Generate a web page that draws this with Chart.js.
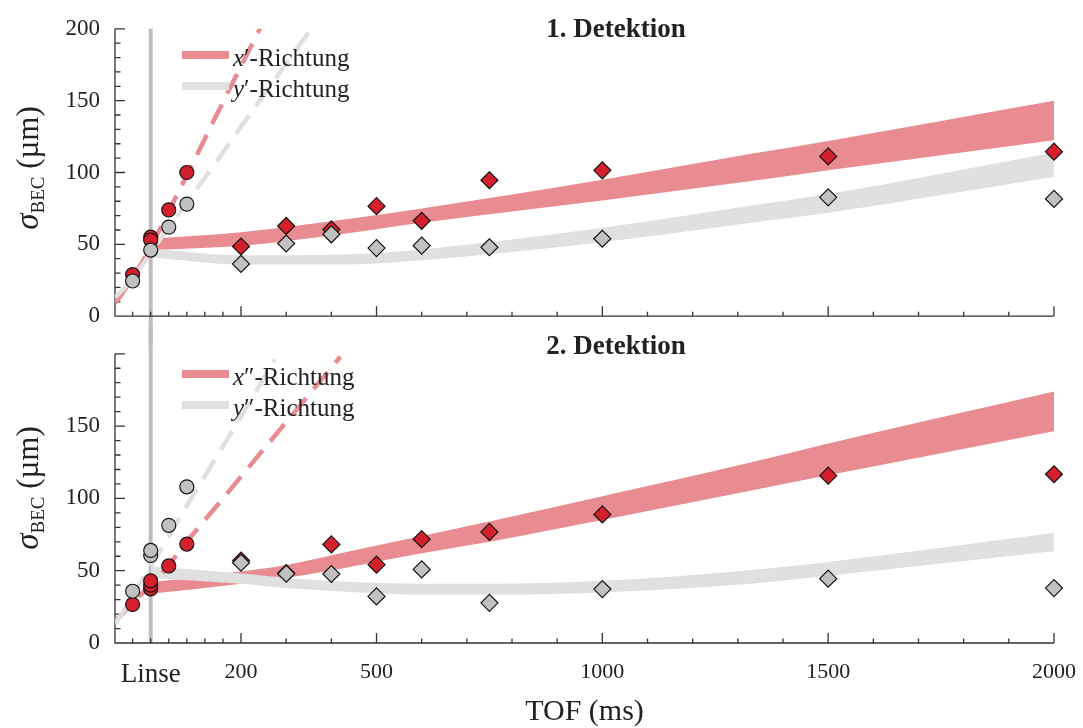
<!DOCTYPE html>
<html lang="de">
<head>
<meta charset="UTF-8">
<title>BEC-Breite nach Linse</title>
<style>
  html, body { margin: 0; padding: 0; background: #fff; }
  #wrap { position: relative; width: 1083px; height: 728px; }
  .panel { position: absolute; left: 0; width: 1083px; }
  #p1 { top: 0; height: 345px; }
  #p2 { top: 325px; height: 403px; }
</style>
</head>
<body>
<div id="wrap">
  <div class="panel" id="p1"><canvas id="chart1"></canvas></div>
  <div class="panel" id="p2"><canvas id="chart2"></canvas></div>
</div>
<script src="https://cdn.jsdelivr.net/npm/chart.js"></script>
<script>
// TOF on the plot axis in ms (0 = Linse), sigma in µm

// 1. Detektion - measurements
const preTof1X = [-40, 0, 0, 40, 80];
const preSig1X = [29, 55, 53, 74, 100];
const preTof1Y = [-40, 0, 40, 80];
const preSig1Y = [24.5, 46, 62, 78];
const tof = [200, 300, 400, 500, 600, 750, 1000, 1500, 2000];
const sig1X = [48.5, 62.8, 60.4, 76.6, 66.4, 94.6, 101.5, 111.2, 114.5];
const sig1Y = [36.4, 50.6, 57, 47.4, 49.1, 48, 53.9, 82.7, 81.6];

// 2. Detektion - measurements
const preTof2X = [-40, 0, 0, 0, 40, 80];
const preSig2X = [26.7, 37.5, 40, 43, 53.3, 68.4];
const preTof2Y = [-40, 0, 0, 40, 80];
const preSig2Y = [35.8, 60.6, 64, 81.4, 108];
const sig2X = [57, 48.3, 68.2, 54.2, 71.8, 76.8, 88.9, 115.7, 116.7];
const sig2Y = [55.5, 47.9, 47.7, 32.2, 50.9, 27.8, 37.3, 44.5, 38];

// model bands (lower / upper edge)
const band1T = [0, 200, 420, 600, 1000, 1330, 1500, 2000];
const band1XLo = [46, 49, 57, 65, 80.5, 94, 101.5, 122.5];
const band1XHi = [54, 58.5, 67, 75, 95, 113, 122, 150];
const band1YLo = [41, 36, 36, 39, 51.5, 65, 72, 97];
const band1YHi = [47, 42.5, 43, 46.5, 61.5, 77, 85, 114];

const band2T = [0, 200, 300, 464, 600, 750, 1000, 1330, 1500, 2000];
const band2XLo = [34, 41, 45, 54, 62, 70, 85, 105.5, 116, 146.5];
const band2XHi = [42, 49.5, 54, 65, 74, 84, 101.5, 125, 138, 174];
const band2YLo = [45, 41, 38, 35, 33.5, 33.5, 35, 41, 46.5, 63.5];
const band2YHi = [53, 48, 45, 42, 41, 41, 43, 50.5, 56, 76];

// free expansion without lens (dashed)
const free1XT = [-79, -65, -40, -20, 0, 40, 80, 160, 245];
const free1X = [9, 15, 27, 37, 48, 73, 98, 149, 202];
const free1YT = [-79, -60, -40, -20, 0, 40, 80, 160, 240, 360];
const free1Y = [13, 19, 27, 35, 44, 62, 79, 114, 149.5, 202];
const free2XT = [-79, -60, -40, -20, 0, 40, 80, 160, 250, 330, 420];
const free2X = [15, 21, 28, 34, 40, 54, 70, 100, 134, 164, 198];
const free2YT = [-79, -60, -40, -20, 0, 40, 80, 160, 275];
const free2Y = [13, 22, 32, 43, 53, 74, 95, 136, 196];

// ticks
const xLabelTicks = [0, 200, 500, 1000, 1500, 2000];
const xMajorTicks = [200, 500, 1000, 1500, 2000];
const xMinorTicks = [-40, 0, 40, 80, 120, 160, 300, 400, 600, 700, 800, 900, 1100, 1200, 1300, 1400, 1600, 1700, 1800, 1900];
const yMajorTicks = [0, 50, 100, 150, 200];
const yMinorTicks = [10, 20, 30, 40, 60, 70, 80, 90, 110, 120, 130, 140, 160, 170, 180, 190];

const SERIF = "'Liberation Serif', 'DejaVu Serif', serif";
const RED = '#d41f2d', GREY = '#c1c1c1';
const RED_BAND = '#e98c92', GREY_BAND = '#e0e0e0';
const INK = '#222';

function pts(xs, ys) { return xs.map((x, i) => ({x: x, y: ys[i]})); }

function edge(data, order) {
  return {data: data, borderWidth: 0, borderColor: 'transparent', pointRadius: 0,
          fill: false, order: order, cubicInterpolationMode: 'monotone'};
}
function band(data, color, order) {
  return {data: data, borderWidth: 0, borderColor: 'transparent', pointRadius: 0,
          fill: '-1', backgroundColor: color, order: order, cubicInterpolationMode: 'monotone'};
}
function dashed(data, color, order) {
  return {data: data, borderColor: color, borderWidth: 4.5, borderDash: [22, 12],
          pointRadius: 0, fill: false, order: order, cubicInterpolationMode: 'monotone'};
}
function marks(data, color, style, r, order) {
  return {data: data, showLine: false, pointStyle: style, pointRadius: r,
          pointBackgroundColor: color, pointBorderColor: '#151515', pointBorderWidth: 1.2,
          order: order, clip: false};
}

function drawRich(ctx, parts, x, y) {
  parts.forEach(p => {
    ctx.font = p.f;
    ctx.fillText(p.t, x, y + (p.dy || 0));
    x += ctx.measureText(p.t).width;
  });
}

function decor(d) {
  return {
    id: 'decor',
    beforeDatasetsDraw(chart) {
      const {ctx, chartArea: a, scales: {x, y}} = chart;
      ctx.save();
      // Linse
      const lx = x.getPixelForValue(0);
      ctx.strokeStyle = '#bdbdbd';
      ctx.lineWidth = 4;
      ctx.beginPath();
      ctx.moveTo(lx, d.lensFromTop ? 0 : a.top);
      ctx.lineTo(lx, d.lensFromTop ? a.bottom : chart.height);
      ctx.stroke();
      // axes
      ctx.strokeStyle = '#333';
      ctx.lineWidth = 1.3;
      ctx.beginPath();
      ctx.moveTo(a.left, a.top);
      ctx.lineTo(a.left, a.bottom);
      ctx.lineTo(a.right, a.bottom);
      xMajorTicks.forEach(v => { const p = x.getPixelForValue(v); ctx.moveTo(p, a.bottom); ctx.lineTo(p, a.bottom - 10); });
      xMinorTicks.forEach(v => { const p = x.getPixelForValue(v); ctx.moveTo(p, a.bottom); ctx.lineTo(p, a.bottom - 4.5); });
      yMajorTicks.forEach(v => { const p = y.getPixelForValue(v); ctx.moveTo(a.left, p); ctx.lineTo(a.left + 10, p); });
      yMinorTicks.forEach(v => { const p = y.getPixelForValue(v); ctx.moveTo(a.left, p); ctx.lineTo(a.left + 5.5, p); });
      ctx.stroke();
      ctx.restore();
    },
    afterDraw(chart) {
      const ctx = chart.ctx;
      ctx.save();
      ctx.fillStyle = INK;
      ctx.textBaseline = 'alphabetic';
      // panel title
      ctx.font = `bold 27px ${SERIF}`;
      ctx.textAlign = 'center';
      ctx.fillText(d.title, 616, d.titleY);
      ctx.textAlign = 'left';
      // legend
      d.legend.forEach((item, i) => {
        const ly = d.legendY + i * 31;
        ctx.strokeStyle = item.color;
        ctx.lineWidth = 8;
        ctx.beginPath();
        ctx.moveTo(182, ly);
        ctx.lineTo(229, ly);
        ctx.stroke();
        drawRich(ctx, [
          {t: item.sym, f: `italic 25px ${SERIF}`},
          {t: item.prime + '-Richtung', f: `25px ${SERIF}`}
        ], 233, ly + 11);
      });
      // y axis title with subscript
      ctx.translate(38, d.yTitleY);
      ctx.rotate(-Math.PI / 2);
      const parts = [
        {t: 'σ', f: `italic 33px ${SERIF}`},
        {t: 'BEC', f: `19px ${SERIF}`, dy: 6},
        {t: ' (µm)', f: `31px ${SERIF}`}
      ];
      let w = 0;
      parts.forEach(p => { ctx.font = p.f; w += ctx.measureText(p.t).width; });
      drawRich(ctx, parts, -w / 2, 0);
      ctx.restore();
    }
  };
}

function makeChart(id, d) {
  return new Chart(document.getElementById(id), {
    type: 'line',
    data: {
      datasets: [
        edge(pts(d.bandT, d.xLo), 10),
        band(pts(d.bandT, d.xHi), RED_BAND, 10),
        edge(pts(d.bandT, d.yLo), 9),
        band(pts(d.bandT, d.yHi), GREY_BAND, 9),
        dashed(pts(d.freeXT, d.freeX), RED_BAND, 8),
        dashed(pts(d.freeYT, d.freeY), GREY_BAND, 7),
        marks(pts(d.preXT, d.preX), RED, 'circle', 7, 4),
        marks(pts(tof, d.sigX), RED, 'rectRot', 8.5, 4),
        marks(pts(d.preYT, d.preY), GREY, 'circle', 7, 3),
        marks(pts(tof, d.sigY), GREY, 'rectRot', 8.5, 3)
      ]
    },
    options: {
      animation: false,
      responsive: true,
      maintainAspectRatio: false,
      layout: {padding: {top: d.padTop, right: 29, left: 0, bottom: 0}},
      plugins: {legend: {display: false}, tooltip: {enabled: false}},
      scales: {
        x: {
          type: 'linear', min: -79, max: 2000,
          afterBuildTicks: s => { s.ticks = xLabelTicks.map(v => ({value: v})); },
          afterFit: s => { s.height = d.xHeight; s.paddingLeft = 0; s.paddingRight = 0; },
          grid: {display: false, drawTicks: false}, border: {display: false},
          ticks: {
            display: d.showX, autoSkip: false, maxRotation: 0, padding: 16, color: INK,
            font: c => ({family: SERIF, size: c.tick && c.tick.value === 0 ? 27 : 22}),
            callback: v => v === 0 ? 'Linse' : String(v)
          },
          title: {display: d.showX, text: 'TOF (ms)', color: INK,
                  font: {family: SERIF, size: 30, lineHeight: 1}, padding: {top: 0, bottom: 1}}
        },
        y: {
          min: 0, max: 200,
          afterBuildTicks: s => { s.ticks = yMajorTicks.map(v => ({value: v})); },
          afterFit: s => { s.width = 115; },
          grid: {display: false, drawTicks: false}, border: {display: false},
          ticks: {padding: 15, color: INK, font: {family: SERIF, size: 23},
                  callback: v => d.yLabels.includes(v) ? String(v) : ''}
        }
      }
    },
    plugins: [decor(d)]
  });
}

makeChart('chart1', {
  bandT: band1T, xLo: band1XLo, xHi: band1XHi, yLo: band1YLo, yHi: band1YHi,
  freeXT: free1XT, freeX: free1X, freeYT: free1YT, freeY: free1Y,
  preXT: preTof1X, preX: preSig1X, preYT: preTof1Y, preY: preSig1Y,
  sigX: sig1X, sigY: sig1Y,
  padTop: 15, xHeight: 22, showX: false, yLabels: [0, 50, 100, 150, 200],
  lensFromTop: false, title: '1. Detektion', titleY: 37, legendY: 55, yTitleY: 168,
  legend: [{color: RED_BAND, sym: 'x', prime: '′'}, {color: GREY_BAND, sym: 'y', prime: '′'}]
});

makeChart('chart2', {
  bandT: band2T, xLo: band2XLo, xHi: band2XHi, yLo: band2YLo, yHi: band2YHi,
  freeXT: free2XT, freeX: free2X, freeYT: free2YT, freeY: free2Y,
  preXT: preTof2X, preX: preSig2X, preYT: preTof2Y, preY: preSig2Y,
  sigX: sig2X, sigY: sig2Y,
  padTop: 9, xHeight: 85, showX: true, yLabels: [0, 50, 100, 150],
  lensFromTop: true, title: '2. Detektion', titleY: 29, legendY: 49, yTitleY: 163,
  legend: [{color: RED_BAND, sym: 'x', prime: '″'}, {color: GREY_BAND, sym: 'y', prime: '″'}]
});
</script>
</body>
</html>
